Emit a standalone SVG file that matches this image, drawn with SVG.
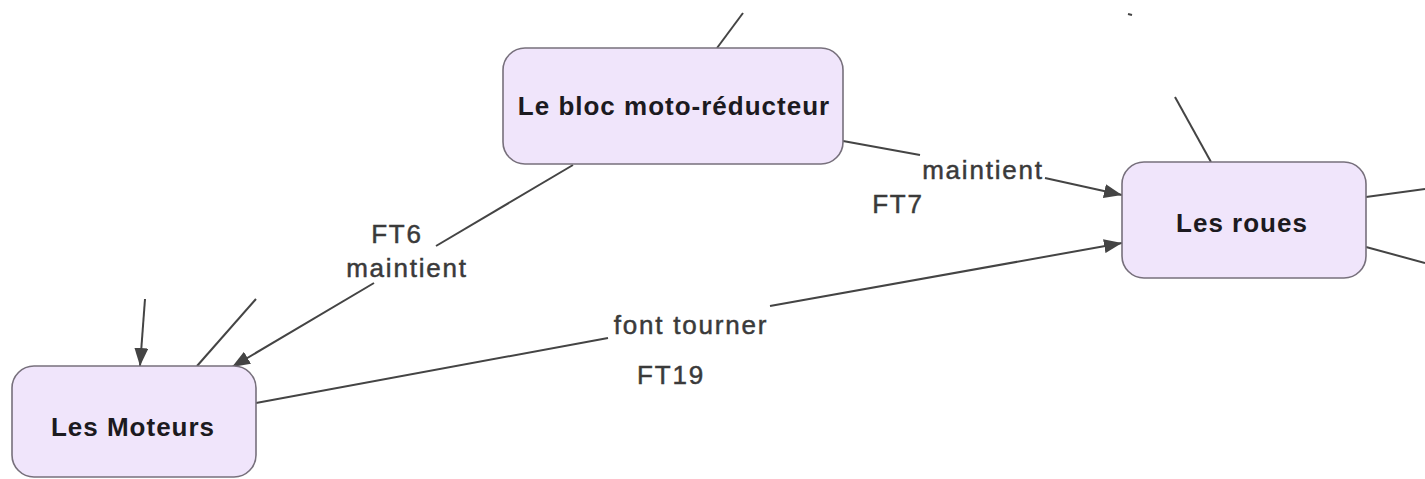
<svg xmlns="http://www.w3.org/2000/svg" width="1425" height="479" viewBox="0 0 1425 479">
<style>
.node rect{fill:#f0e5fb;stroke:#77707c;stroke-width:1.6}
.node text{font-family:"Liberation Sans",Arial,sans-serif;font-weight:bold;font-size:26px;letter-spacing:1px;fill:#1c1a20;text-anchor:middle}
.edges line{stroke:#444;stroke-width:2;fill:none}
.lbl{font-family:"Liberation Sans",Arial,sans-serif;font-size:26px;letter-spacing:1.8px;fill:#3a3a3a;stroke:#3a3a3a;stroke-width:0.5;text-anchor:middle}
</style>
<defs>
<marker id="arr" markerUnits="userSpaceOnUse" markerWidth="20" markerHeight="14" refX="18" refY="7" orient="auto">
<path d="M0,0 L18,7 L0,14 z" fill="#444"/>
</marker>
</defs>
<rect width="1425" height="479" fill="#ffffff"/>
<g class="edges" id="connectors">
<line x1="717" y1="48" x2="743" y2="13"/>
<line x1="1128" y1="14" x2="1132" y2="15"/>
<line x1="1175" y1="97" x2="1211" y2="162"/>
<line x1="1366" y1="197" x2="1425" y2="189"/>
<line x1="1366" y1="247" x2="1425" y2="263"/>
<line x1="843" y1="141" x2="920" y2="155"/>
<line x1="1045" y1="178" x2="1122" y2="195" marker-end="url(#arr)"/>
<line x1="573" y1="165" x2="436" y2="246"/>
<line x1="374" y1="283" x2="232" y2="367" marker-end="url(#arr)"/>
<line x1="256" y1="403" x2="608" y2="338"/>
<line x1="770" y1="306" x2="1122" y2="243" marker-end="url(#arr)"/>
<line x1="145" y1="299" x2="140" y2="366" marker-end="url(#arr)"/>
<line x1="197" y1="366" x2="256" y2="299"/>
<text class="lbl" x="983" y="179">maintient</text>
<text class="lbl" x="898" y="213">FT7</text>
<text class="lbl" x="397" y="243">FT6</text>
<text class="lbl" x="407" y="277">maintient</text>
<text class="lbl" x="691" y="334">font tourner</text>
<text class="lbl" x="671" y="384">FT19</text>
</g>
<g class="node" id="bloc">
<rect x="503" y="48" width="340" height="116" rx="22" ry="22"/>
<text x="674" y="115">Le bloc moto-réducteur</text>
</g>
<g class="node" id="roues">
<rect x="1122" y="162" width="244" height="116" rx="22" ry="22"/>
<text x="1242" y="232">Les roues</text>
</g>
<g class="node" id="moteurs">
<rect x="12" y="366" width="244" height="111" rx="22" ry="22"/>
<text x="133" y="436">Les Moteurs</text>
</g>
</svg>
